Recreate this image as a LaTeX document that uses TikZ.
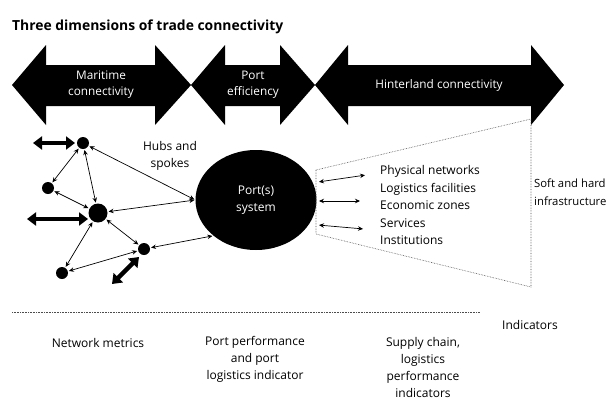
\documentclass[tikz,border=0pt]{standalone}
\usepackage{fontspec}
\setmainfont{Open Sans}
\usetikzlibrary{arrows.meta,shapes.geometric}
\begin{document}
\begin{tikzpicture}[x=1pt,y=-1pt,
  band/.style={fill=black},
  bandlabel/.style={text=white,font=\fontsize{11.8}{16}\selectfont,align=center,inner sep=0},
  txt/.style={font=\fontsize{12}{17}\selectfont,inner sep=0},
  sidetxt/.style={font=\fontsize{11.3}{17}\selectfont,inner sep=0},
  hub/.style={circle,fill=black,inner sep=0,minimum size=12pt},
  bighub/.style={hub,minimum size=19pt},
  link/.style={{Stealth[length=5pt,width=4.5pt]}-{Stealth[length=5pt,width=4.5pt]},line width=0.7pt,shorten <=1pt,shorten >=1pt},
  flow/.style={{Triangle[length=9pt,width=13pt]}-{Triangle[length=9pt,width=13pt]},line width=4.5pt},
  frontier/.style={densely dotted,line width=0.6pt,black!70}
]
\useasboundingbox (0,0) rectangle (610,399);

% title
\node[anchor=base west,inner sep=0,font=\bfseries\fontsize{13.9}{16}\selectfont] (title) at (12,30) {Three dimensions of trade connectivity};

% the three dimension bands
\fill[band] (12,85) -- (46,45) -- (46,65) -- (155,65) -- (155,45) -- (191,85)
  -- (155,125) -- (155,106) -- (46,106) -- (46,125) -- cycle;
\fill[band] (191,85) -- (225,45) -- (225,65) -- (280,65) -- (280,45) -- (315,85)
  -- (280,125) -- (280,106) -- (225,106) -- (225,125) -- cycle;
\fill[band] (315,85) -- (348,45) -- (348,65) -- (531,65) -- (531,45) -- (564,85)
  -- (531,125) -- (531,106) -- (348,106) -- (348,125) -- cycle;
\node[bandlabel] (maritime) at (101,85) {Maritime\\connectivity};
\node[bandlabel] (porteff) at (253,85) {Port\\efficiency};
\node[bandlabel] (hinter) at (439,85) {Hinterland connectivity};

% maritime network
\node[hub] (n1) at (83,143) {};
\node[hub] (n2) at (48,188) {};
\node[bighub] (n3) at (98,213) {};
\node[hub] (n4) at (144,249) {};
\node[hub] (n5) at (62,273) {};
\node[ellipse,fill=black,minimum width=121pt,minimum height=100pt,inner sep=0,
  text=white,align=center,font=\fontsize{12}{17}\selectfont] (port) at (256,200) {Port(s)\\system};

\draw[link] (n1) -- (n2);
\draw[link] (n1) -- (n3);
\draw[link] (n2) -- (n3);
\draw[link] (n3) -- (n4);
\draw[link] (n3) -- (n5);
\draw[link] (n4) -- (n5);
\draw[link] (n1) -- (port.west);
\draw[link] (n3) -- (port.west);
\draw[link] (n4) -- (port.220);

% outside traffic
\coordinate (f1a) at (33,143);  \coordinate (f1b) at (75,143);
\coordinate (f2a) at (27,219);  \coordinate (f2b) at (88,219);
\coordinate (f3a) at (112,284); \coordinate (f3b) at (139,257);
\draw[flow] (f1a) -- (f1b);
\draw[flow] (f2a) -- (f2b);
\draw[flow] (f3a) -- (f3b);

\node[txt,align=center] (hubs) at (170,156) {Hubs and\\spokes};

% hinterland fan
\draw[frontier] (316,170) -- (531,119) -- (531,287) -- (316,234) -- cycle;
\coordinate (h1a) at (318,182); \coordinate (h1b) at (366,175);
\coordinate (h2a) at (318,201); \coordinate (h2b) at (361,201);
\coordinate (h3a) at (318,225); \coordinate (h3b) at (364,229);
\draw[link] (h1a) -- (h1b);
\draw[link] (h2a) -- (h2b);
\draw[link] (h3a) -- (h3b);

\node[txt,anchor=base west] (phys) at (380,174) {Physical networks};
\node[txt,anchor=base west] (logf) at (380,192) {Logistics facilities};
\node[txt,anchor=base west] (econ) at (380,209) {Economic zones};
\node[txt,anchor=base west] (serv) at (380,227) {Services};
\node[txt,anchor=base west] (inst) at (380,244) {Institutions};

\node[sidetxt,anchor=base west] (soft) at (534,187) {Soft and hard};
\node[sidetxt,anchor=base west] (infra) at (534,205) {infrastructure};

% indicators
\draw[frontier] (12,312) -- (480,312);
\node[txt] (ind) at (530,325) {Indicators};
\node[txt] (netm) at (98,343) {Network metrics};
\node[txt,align=center] (portperf) at (255,359) {Port performance\\and port\\logistics indicator};
\node[txt,align=center] (supply) at (423,367.5) {Supply chain,\\logistics\\performance\\indicators};
\end{tikzpicture}
\end{document}
